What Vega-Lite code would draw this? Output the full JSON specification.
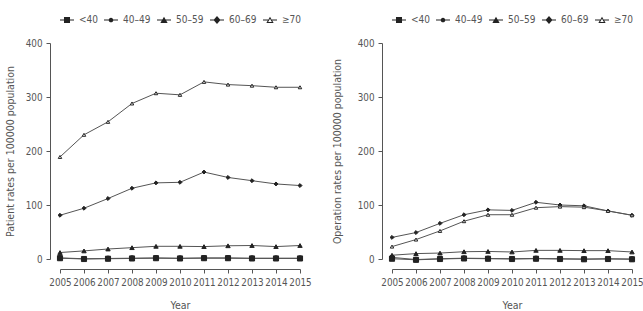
{
  "$schema": "https://vega.github.io/schema/vega-lite/v6.json",
  "background": "white",
  "padding": {"left": 5, "top": 13, "right": 0, "bottom": 2},
  "config": {
    "view": {"stroke": null},
    "font": "DejaVu Sans Condensed, DejaVu Sans",
    "axis": {
      "grid": false,
      "domainColor": "#555",
      "tickColor": "#555",
      "labelColor": "#555",
      "titleColor": "#555",
      "labelFont": "DejaVu Sans Condensed, DejaVu Sans",
      "titleFont": "DejaVu Sans Condensed, DejaVu Sans",
      "labelFontSize": 9.8,
      "titleFontSize": 10.5,
      "titleFontWeight": "normal",
      "tickSize": 4,
      "offset": 10,
      "labelPadding": 4,
      "labelOverlap": false,
      "labelFlush": false
    },
    "legend": {
      "labelFont": "DejaVu Sans Condensed, DejaVu Sans",
      "labelFontSize": 10,
      "labelColor": "#555"
    }
  },
  "datasets": {
    "patient": [
      {"year": 2005, "group": "<40", "rate": 1.5}, {"year": 2006, "group": "<40", "rate": 0}, {"year": 2007, "group": "<40", "rate": 0.5}, {"year": 2008, "group": "<40", "rate": 1}, {"year": 2009, "group": "<40", "rate": 1.5}, {"year": 2010, "group": "<40", "rate": 1}, {"year": 2011, "group": "<40", "rate": 1.5}, {"year": 2012, "group": "<40", "rate": 1.5}, {"year": 2013, "group": "<40", "rate": 1}, {"year": 2014, "group": "<40", "rate": 1}, {"year": 2015, "group": "<40", "rate": 1},
      {"year": 2005, "group": "40–49", "rate": 2}, {"year": 2006, "group": "40–49", "rate": 0.5}, {"year": 2007, "group": "40–49", "rate": 1}, {"year": 2008, "group": "40–49", "rate": 1.5}, {"year": 2009, "group": "40–49", "rate": 2}, {"year": 2010, "group": "40–49", "rate": 1.5}, {"year": 2011, "group": "40–49", "rate": 2}, {"year": 2012, "group": "40–49", "rate": 2}, {"year": 2013, "group": "40–49", "rate": 1.5}, {"year": 2014, "group": "40–49", "rate": 1.5}, {"year": 2015, "group": "40–49", "rate": 1.5},
      {"year": 2005, "group": "50–59", "rate": 12}, {"year": 2006, "group": "50–59", "rate": 15}, {"year": 2007, "group": "50–59", "rate": 18.5}, {"year": 2008, "group": "50–59", "rate": 21}, {"year": 2009, "group": "50–59", "rate": 23.5}, {"year": 2010, "group": "50–59", "rate": 23.5}, {"year": 2011, "group": "50–59", "rate": 23}, {"year": 2012, "group": "50–59", "rate": 24.5}, {"year": 2013, "group": "50–59", "rate": 25}, {"year": 2014, "group": "50–59", "rate": 23}, {"year": 2015, "group": "50–59", "rate": 25},
      {"year": 2005, "group": "60–69", "rate": 81}, {"year": 2006, "group": "60–69", "rate": 94}, {"year": 2007, "group": "60–69", "rate": 112}, {"year": 2008, "group": "60–69", "rate": 131}, {"year": 2009, "group": "60–69", "rate": 141}, {"year": 2010, "group": "60–69", "rate": 142}, {"year": 2011, "group": "60–69", "rate": 161}, {"year": 2012, "group": "60–69", "rate": 151}, {"year": 2013, "group": "60–69", "rate": 145}, {"year": 2014, "group": "60–69", "rate": 139}, {"year": 2015, "group": "60–69", "rate": 136},
      {"year": 2005, "group": "≥70", "rate": 189}, {"year": 2006, "group": "≥70", "rate": 230}, {"year": 2007, "group": "≥70", "rate": 254}, {"year": 2008, "group": "≥70", "rate": 288}, {"year": 2009, "group": "≥70", "rate": 307}, {"year": 2010, "group": "≥70", "rate": 304}, {"year": 2011, "group": "≥70", "rate": 328}, {"year": 2012, "group": "≥70", "rate": 323}, {"year": 2013, "group": "≥70", "rate": 321}, {"year": 2014, "group": "≥70", "rate": 318}, {"year": 2015, "group": "≥70", "rate": 318}
    ],
    "operation": [
      {"year": 2005, "group": "<40", "rate": 0.5}, {"year": 2006, "group": "<40", "rate": -1.5}, {"year": 2007, "group": "<40", "rate": 0}, {"year": 2008, "group": "<40", "rate": 1}, {"year": 2009, "group": "<40", "rate": 0.5}, {"year": 2010, "group": "<40", "rate": 0}, {"year": 2011, "group": "<40", "rate": 0.5}, {"year": 2012, "group": "<40", "rate": 0}, {"year": 2013, "group": "<40", "rate": -0.5}, {"year": 2014, "group": "<40", "rate": 0}, {"year": 2015, "group": "<40", "rate": -0.5},
      {"year": 2005, "group": "40–49", "rate": 3}, {"year": 2006, "group": "40–49", "rate": -1}, {"year": 2007, "group": "40–49", "rate": 0.5}, {"year": 2008, "group": "40–49", "rate": 1.5}, {"year": 2009, "group": "40–49", "rate": 1}, {"year": 2010, "group": "40–49", "rate": 0.5}, {"year": 2011, "group": "40–49", "rate": 1}, {"year": 2012, "group": "40–49", "rate": 0.5}, {"year": 2013, "group": "40–49", "rate": 0}, {"year": 2014, "group": "40–49", "rate": 0.5}, {"year": 2015, "group": "40–49", "rate": 0},
      {"year": 2005, "group": "50–59", "rate": 7}, {"year": 2006, "group": "50–59", "rate": 10}, {"year": 2007, "group": "50–59", "rate": 11}, {"year": 2008, "group": "50–59", "rate": 13.5}, {"year": 2009, "group": "50–59", "rate": 14}, {"year": 2010, "group": "50–59", "rate": 13}, {"year": 2011, "group": "50–59", "rate": 16}, {"year": 2012, "group": "50–59", "rate": 16}, {"year": 2013, "group": "50–59", "rate": 15.5}, {"year": 2014, "group": "50–59", "rate": 15.5}, {"year": 2015, "group": "50–59", "rate": 13},
      {"year": 2005, "group": "60–69", "rate": 40}, {"year": 2006, "group": "60–69", "rate": 49}, {"year": 2007, "group": "60–69", "rate": 66}, {"year": 2008, "group": "60–69", "rate": 82}, {"year": 2009, "group": "60–69", "rate": 91}, {"year": 2010, "group": "60–69", "rate": 90}, {"year": 2011, "group": "60–69", "rate": 105}, {"year": 2012, "group": "60–69", "rate": 100}, {"year": 2013, "group": "60–69", "rate": 98.5}, {"year": 2014, "group": "60–69", "rate": 89}, {"year": 2015, "group": "60–69", "rate": 81},
      {"year": 2005, "group": "≥70", "rate": 23}, {"year": 2006, "group": "≥70", "rate": 36}, {"year": 2007, "group": "≥70", "rate": 52}, {"year": 2008, "group": "≥70", "rate": 70}, {"year": 2009, "group": "≥70", "rate": 82}, {"year": 2010, "group": "≥70", "rate": 82}, {"year": 2011, "group": "≥70", "rate": 95}, {"year": 2012, "group": "≥70", "rate": 97}, {"year": 2013, "group": "≥70", "rate": 96}, {"year": 2014, "group": "≥70", "rate": 89}, {"year": 2015, "group": "≥70", "rate": 81}
    ]
  },
  "resolve": {
    "scale": {"shape": "independent", "fill": "independent"},
    "legend": {"shape": "independent", "fill": "independent"}
  },
  "spacing": 20,
  "hconcat": [
    {
      "data": {"name": "patient"},
      "width": 240,
      "height": 216,
      "resolve": {"scale": {"shape": "independent", "fill": "independent"}},
      "encoding": {
        "x": {
          "field": "year", "type": "quantitative", "title": "Year",
          "scale": {"domain": [2005, 2015], "nice": false, "zero": false},
          "axis": {"values": [2005, 2006, 2007, 2008, 2009, 2010, 2011, 2012, 2013, 2014, 2015], "format": "d", "titlePadding": 14}
        },
        "y": {
          "field": "rate", "type": "quantitative", "title": "Patient rates per 100000 population",
          "scale": {"domain": [0, 400], "nice": false},
          "axis": {"values": [0, 100, 200, 300, 400], "titlePadding": 10}
        }
      },
      "layer": [
        {
          "mark": {"type": "line", "color": "#555", "strokeWidth": 1},
          "encoding": {"detail": {"field": "group"}, "order": {"field": "year"}}
        },
        {
          "mark": {"type": "point", "filled": true, "stroke": "#222", "strokeWidth": 1, "opacity": 1},
          "encoding": {
            "shape": {"field": "group", "legend": null, "scale": {"domain": ["<40", "40–49", "50–59", "60–69", "≥70"], "range": ["square", "circle", "triangle-up", "diamond", "triangle-up"]}},
            "fill": {"field": "group", "legend": null, "scale": {"domain": ["<40", "40–49", "50–59", "60–69", "≥70"], "range": ["#222", "#222", "#222", "#222", "#fff"]}},
            "size": {"field": "group", "legend": null, "scale": {"domain": ["<40", "40–49", "50–59", "60–69", "≥70"], "range": [26, 12, 36, 44, 36]}}
          }
        },
        {
          "mark": {"type": "point", "filled": true, "color": "#222", "opacity": 0},
          "encoding": {
            "shape": {
              "field": "group", "title": null,
              "scale": {"domain": ["<40", "40–49", "50–59", "60–69", "≥70"], "range": [
                "M-1,-0.07H1V0.07H-1ZM-0.43,-0.43H0.43V0.43H-0.43Z",
                "M-1,-0.07H1V0.07H-1ZM-0.33,0A0.33,0.33,0,1,1,0.33,0A0.33,0.33,0,1,1,-0.33,0Z",
                "M-1,-0.07H1V0.07H-1ZM0,-0.45L0.52,0.42L-0.52,0.42Z",
                "M-1,-0.07H1V0.07H-1ZM0,-0.57L0.5,0L0,0.57L-0.5,0Z",
                "M-1,-0.07H-0.27V0.07H-1ZM0.27,-0.07H1V0.07H0.27ZM0,-0.45L0.52,0.42L-0.52,0.42ZM0,-0.18L-0.27,0.28L0.27,0.28Z"
              ]},
              "legend": {
                "orient": "none", "legendX": 0, "legendY": -30, "direction": "horizontal",
                "symbolSize": 196, "symbolStrokeWidth": 0, "symbolOpacity": 1,
                "symbolFillColor": "#222",
                "labelOffset": 5, "columnPadding": 6,
                "encode": {"symbols": {"update": {"opacity": {"value": 1}, "fillOpacity": {"value": 1}, "fill": {"value": "#222"}, "strokeWidth": {"value": 0}, "size": {"value": 196}}}}
              }
            }
          }
        }
      ]
    },
    {
      "data": {"name": "operation"},
      "width": 240,
      "height": 216,
      "resolve": {"scale": {"shape": "independent", "fill": "independent"}},
      "encoding": {
        "x": {
          "field": "year", "type": "quantitative", "title": "Year",
          "scale": {"domain": [2005, 2015], "nice": false, "zero": false},
          "axis": {"values": [2005, 2006, 2007, 2008, 2009, 2010, 2011, 2012, 2013, 2014, 2015], "format": "d", "titlePadding": 14}
        },
        "y": {
          "field": "rate", "type": "quantitative", "title": "Operation rates per 100000 population",
          "scale": {"domain": [0, 400], "nice": false},
          "axis": {"values": [0, 100, 200, 300, 400], "titlePadding": 15}
        }
      },
      "layer": [
        {
          "mark": {"type": "line", "color": "#555", "strokeWidth": 1},
          "encoding": {"detail": {"field": "group"}, "order": {"field": "year"}}
        },
        {
          "mark": {"type": "point", "filled": true, "stroke": "#222", "strokeWidth": 1, "opacity": 1},
          "encoding": {
            "shape": {"field": "group", "legend": null, "scale": {"domain": ["<40", "40–49", "50–59", "60–69", "≥70"], "range": ["square", "circle", "triangle-up", "diamond", "triangle-up"]}},
            "fill": {"field": "group", "legend": null, "scale": {"domain": ["<40", "40–49", "50–59", "60–69", "≥70"], "range": ["#222", "#222", "#222", "#222", "#fff"]}},
            "size": {"field": "group", "legend": null, "scale": {"domain": ["<40", "40–49", "50–59", "60–69", "≥70"], "range": [26, 12, 36, 44, 36]}}
          }
        },
        {
          "mark": {"type": "point", "filled": true, "color": "#222", "opacity": 0},
          "encoding": {
            "shape": {
              "field": "group", "title": null,
              "scale": {"domain": ["<40", "40–49", "50–59", "60–69", "≥70"], "range": [
                "M-1,-0.07H1V0.07H-1ZM-0.43,-0.43H0.43V0.43H-0.43Z",
                "M-1,-0.07H1V0.07H-1ZM-0.33,0A0.33,0.33,0,1,1,0.33,0A0.33,0.33,0,1,1,-0.33,0Z",
                "M-1,-0.07H1V0.07H-1ZM0,-0.45L0.52,0.42L-0.52,0.42Z",
                "M-1,-0.07H1V0.07H-1ZM0,-0.57L0.5,0L0,0.57L-0.5,0Z",
                "M-1,-0.07H-0.27V0.07H-1ZM0.27,-0.07H1V0.07H0.27ZM0,-0.45L0.52,0.42L-0.52,0.42ZM0,-0.18L-0.27,0.28L0.27,0.28Z"
              ]},
              "legend": {
                "orient": "none", "legendX": 0, "legendY": -30, "direction": "horizontal",
                "symbolSize": 196, "symbolStrokeWidth": 0, "symbolOpacity": 1,
                "symbolFillColor": "#222",
                "labelOffset": 5, "columnPadding": 6,
                "encode": {"symbols": {"update": {"opacity": {"value": 1}, "fillOpacity": {"value": 1}, "fill": {"value": "#222"}, "strokeWidth": {"value": 0}, "size": {"value": 196}}}}
              }
            }
          }
        }
      ]
    }
  ]
}
